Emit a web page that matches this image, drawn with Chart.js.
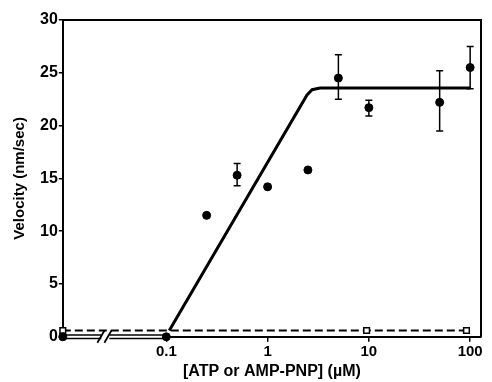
<!DOCTYPE html>
<html>
<head>
<meta charset="utf-8">
<script src="https://cdn.jsdelivr.net/npm/chart.js@4"></script>
<style>
  html, body { margin: 0; padding: 0; background: #fff; }
  #wrap { width: 492px; height: 382px; }
</style>
</head>
<body>
<div id="wrap"><canvas id="chart"></canvas></div>
<script>
// data
const xMin = 0.0095;
const xMax = 128;
const xTicks = [0.1, 1, 10, 100];

// ATP: filled circles with error bars
const atpConc = [0.25, 0.5, 1, 2.5, 5, 10, 50, 100];
const atpVelocity = [11.5, 15.3, 14.2, 15.8, 24.5, 21.7, 22.2, 25.5];
const atpErrHigh = [null, 16.4, null, null, 26.7, 22.4, 25.2, 27.5];
const atpErrLow = [null, 14.3, null, null, 22.5, 20.9, 19.5, 23.5];
// zero velocity points (no ATP and 0.1 uM)
const zeroConc = [xMin, 0.1];
const zeroVelocity = [0, 0];

// AMP-PNP: open squares, dashed line
const pnpConc = [xMin, 9.5, 92];
const pnpVelocity = [0.6, 0.6, 0.6];
const pnpLineConc = [xMin, 100];
const pnpLineVelocity = [0.6, 0.6];

// fitted curve
const fitConc = [0.107, 2.45, 2.75, 3.3, 100];
const fitVelocity = [0.6, 22.9, 23.4, 23.55, 23.55];

const toPts = (xs, ys) => xs.map((x, i) => ({ x: x, y: ys[i] }));

// frame, error bars, axis break
const extras = {
  id: 'extras',
  afterDatasetsDraw(chart) {
    const ctx = chart.ctx;
    const xs = chart.scales.x, ys = chart.scales.y;
    const a = chart.chartArea;
    ctx.save();
    ctx.strokeStyle = '#000';
    ctx.lineWidth = 2;
    ctx.beginPath();
    ctx.moveTo(a.left, a.top);
    ctx.lineTo(a.right, a.top);
    ctx.lineTo(a.right, a.bottom);
    ctx.stroke();

    ctx.lineWidth = 1.5;
    atpConc.forEach((c, i) => {
      if (atpErrHigh[i] == null) return;
      const px = xs.getPixelForValue(c);
      const hi = ys.getPixelForValue(atpErrHigh[i]);
      const lo = ys.getPixelForValue(atpErrLow[i]);
      ctx.beginPath();
      ctx.moveTo(px, hi); ctx.lineTo(px, lo);
      ctx.moveTo(px - 3.5, hi); ctx.lineTo(px + 3.5, hi);
      ctx.moveTo(px - 3.5, lo); ctx.lineTo(px + 3.5, lo);
      ctx.stroke();
    });

    // axis break marks
    const bx = xs.getPixelForValue(0.025);
    const by = ys.getPixelForValue(0);
    ctx.fillStyle = '#fff';
    ctx.fillRect(bx - 4, by - 4, 8, 8);
    ctx.lineWidth = 1.8;
    ctx.beginPath();
    ctx.moveTo(bx - 8, by + 6); ctx.lineTo(bx - 1, by - 6);
    ctx.moveTo(bx - 1, by + 6); ctx.lineTo(bx + 6, by - 6);
    ctx.stroke();
    ctx.restore();
  }
};

new Chart(document.getElementById('chart'), {
  type: 'scatter',
  data: {
    datasets: [
      {
        label: 'zero outline',
        type: 'line',
        data: toPts([xMin, 0.1], [0, 0]),
        borderColor: '#000',
        borderWidth: 5,
        pointRadius: 0,
        clip: false,
        order: 6
      },
      {
        label: 'zero inner',
        type: 'line',
        data: toPts([xMin, 0.1], [0, 0]),
        borderColor: '#fff',
        borderWidth: 2,
        pointRadius: 0,
        clip: false,
        order: 5
      },
      {
        label: 'AMP-PNP line',
        type: 'line',
        data: toPts(pnpLineConc, pnpLineVelocity),
        borderColor: '#000',
        borderWidth: 2,
        borderDash: [8, 4],
        pointRadius: 0,
        clip: false,
        order: 4
      },
      {
        label: 'AMP-PNP',
        data: toPts(pnpConc, pnpVelocity),
        pointStyle: 'rect',
        pointRadius: 4,
        backgroundColor: '#fff',
        borderColor: '#000',
        borderWidth: 1.5,
        clip: false,
        order: 3
      },
      {
        label: 'fit',
        type: 'line',
        data: toPts(fitConc, fitVelocity),
        borderColor: '#000',
        borderWidth: 3,
        pointRadius: 0,
        tension: 0,
        order: 2
      },
      {
        label: 'ATP',
        data: toPts(atpConc, atpVelocity).concat(toPts(zeroConc, zeroVelocity)),
        pointRadius: 4,
        backgroundColor: '#000',
        borderColor: '#000',
        clip: false,
        order: 1
      }
    ]
  },
  options: {
    responsive: true,
    maintainAspectRatio: false,
    animation: false,
    layout: { padding: { top: 20, right: 11, bottom: 1, left: 11 } },
    plugins: {
      legend: { display: false },
      tooltip: { enabled: false }
    },
    scales: {
      x: {
        type: 'logarithmic',
        min: xMin,
        max: xMax,
        afterBuildTicks: (axis) => { axis.ticks = xTicks.map(v => ({ value: v })); },
        ticks: {
          color: '#000',
          font: { family: 'Liberation Sans', size: 15, weight: 'bold' },
          callback: (v) => String(v),
          maxRotation: 0,
          autoSkip: false,
          padding: 1
        },
        grid: { display: true, drawOnChartArea: false, drawTicks: true, tickLength: 5, color: '#000', lineWidth: 1.5 },
        border: { display: true, color: '#000', width: 2 },
        title: {
          display: true,
          text: '[ATP or AMP-PNP] (µM)',
          color: '#000',
          font: { family: 'Liberation Sans', size: 16, weight: 'bold' },
          padding: { top: 0, bottom: 0 }
        }
      },
      y: {
        min: 0,
        max: 30,
        ticks: {
          stepSize: 5,
          color: '#000',
          font: { family: 'Liberation Sans', size: 16, weight: 'bold' },
          padding: 1
        },
        grid: { display: true, drawOnChartArea: false, drawTicks: true, tickLength: 4, color: '#000', lineWidth: 1.5 },
        border: { display: true, color: '#000', width: 2 },
        title: {
          display: true,
          text: 'Velocity (nm/sec)',
          color: '#000',
          font: { family: 'Liberation Sans', size: 15, weight: 'bold' },
          padding: { top: 0, bottom: 10 }
        }
      }
    }
  },
  plugins: [extras]
});
</script>
</body>
</html>
